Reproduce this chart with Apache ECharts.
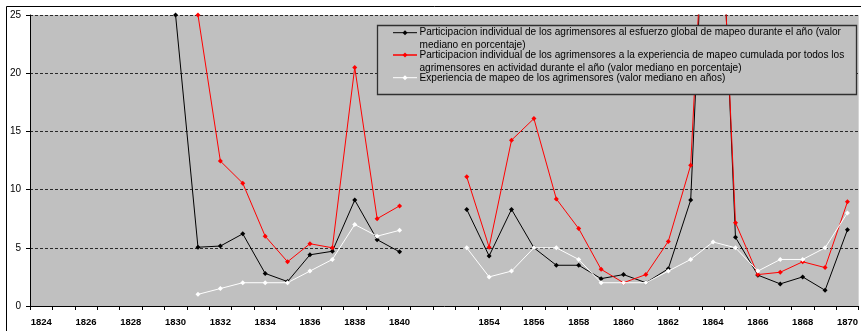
<!DOCTYPE html>
<html>
<head>
<meta charset="utf-8">
<style>
  html, body { margin: 0; padding: 0; background: #ffffff; }
  #chart { width: 861px; height: 331px; }
</style>
<script src="https://cdn.jsdelivr.net/npm/echarts@6/dist/echarts.min.js"></script>
</head>
<body>
<div id="chart"></div>
<script>
// Years on the horizontal axis; 1841-1852 are collapsed into two blank slots.
const years = [
  '1824','1825','1826','1827','1828','1829','1830','1831','1832','1833','1834',
  '1835','1836','1837','1838','1839','1840','',' ',
  '1853','1854','1855','1856','1857','1858','1859','1860','1861','1862','1863',
  '1864','1865','1866','1867','1868','1869','1870'
];

// Participacion individual al esfuerzo global de mapeo (valor mediano, %)
const esfuerzo = [
  null, null, null, null, null, null, 25, 5.05, 5.15, 6.2, 2.8,
  2.1, 4.4, 4.7, 9.1, 5.7, 4.65, null, null,
  8.3, 4.3, 8.3, 5.0, 3.5, 3.5, 2.35, 2.7, 2.0, 3.2, 9.1,
  52, 5.9, 2.65, 1.9, 2.5, 1.35, 6.55
];

// Participacion individual a la experiencia de mapeo cumulada (valor mediano, %)
const experienciaCumulada = [
  null, null, null, null, null, null, null, 25, 12.45, 10.55, 6.0,
  3.8, 5.35, 5.0, 20.5, 7.5, 8.6, null, null,
  11.1, 5.05, 14.25, 16.1, 9.2, 6.65, 3.15, 2.0, 2.7, 5.55, 12.1,
  50, 7.15, 2.7, 2.9, 3.8, 3.3, 8.95
];

// Experiencia de mapeo de los agrimensores (valor mediano, años)
const experienciaAnos = [
  null, null, null, null, null, null, null, 1, 1.5, 2, 2,
  2, 3, 4, 7, 6, 6.5, null, null,
  5, 2.5, 3, 5, 5, 4, 2, 2, 2, 3, 4,
  5.5, 5, 3, 4, 4, 5, 8
];

const yTicks = { min: 0, max: 25, interval: 5 };

// Legend wording, one entry per series, split into its printed lines.
const legendLines = [
  ['Participacion individual de los agrimensores al esfuerzo global de mapeo durante el año (valor',
   'mediano en porcentaje)'],
  ['Participacion individual de los agrimensores a la experiencia de mapeo cumulada por todos los',
   'agrimensores en actividad durante el año (valor mediano en porcentaje)'],
  ['Experiencia de mapeo de los agrimensores (valor mediano en años)']
];
const seriesColors = ['#000000', '#ff0000', '#ffffff'];
const seriesData = [esfuerzo, experienciaCumulada, experienciaAnos];

const FONT = '"Liberation Sans", Arial, sans-serif';

// Legend box drawn as graphic elements: frame, sample line with marker, text.
const legendIconY = [32.7, 55, 77.7];
const legendTextY = [[32.7, 45.5], [55, 68], [78]];
const legendGraphics = [{
  type: 'rect',
  shape: { x: 377.5, y: 25.5, width: 479, height: 69 },
  style: { fill: '#c0c0c0', stroke: '#303030', lineWidth: 1.3 },
  z: 100
}];
legendLines.forEach((lines, i) => {
  const y = legendIconY[i];
  legendGraphics.push({
    type: 'line',
    shape: { x1: 393, y1: y, x2: 417, y2: y },
    style: { stroke: seriesColors[i], lineWidth: i === 1 ? 1.5 : 1 },
    z: 101
  });
  legendGraphics.push({
    type: 'polygon',
    shape: { points: [[405, y - 2.5], [407.5, y], [405, y + 2.5], [402.5, y]] },
    style: { fill: seriesColors[i] },
    z: 102
  });
  lines.forEach((txt, j) => {
    legendGraphics.push({
      type: 'text',
      x: 419.5,
      y: legendTextY[i][j],
      style: {
        text: txt,
        fill: '#000000',
        font: '10.1px ' + FONT,
        textVerticalAlign: 'middle',
        textAlign: 'left'
      },
      z: 103
    });
  });
});

// Outer chart frame
legendGraphics.unshift({
  type: 'rect',
  shape: { x: 6.5, y: 6.5, width: 900, height: 400 },
  style: { fill: 'none', stroke: '#000000', lineWidth: 1 },
  z: -10,
  silent: true
});

const chart = echarts.init(document.getElementById('chart'), null, { renderer: 'canvas' });

chart.setOption({
  animation: false,
  backgroundColor: '#ffffff',
  textStyle: { fontFamily: FONT },
  grid: {
    left: 30, top: 15, width: 831, height: 291,
    show: true, backgroundColor: '#c0c0c0', borderWidth: 0,
    containLabel: false
  },
  xAxis: {
    type: 'category',
    data: years,
    boundaryGap: true,
    axisLine: { show: true, lineStyle: { color: '#000000', width: 1 } },
    axisTick: { show: true, interval: 0, length: 4, lineStyle: { color: '#000000' } },
    axisLabel: {
      interval: 1, color: '#000000', fontSize: 9.5, fontWeight: 'bold',
      fontFamily: FONT, margin: 11.5
    },
    splitLine: { show: false }
  },
  yAxis: {
    type: 'value',
    min: yTicks.min, max: yTicks.max, interval: yTicks.interval,
    axisLine: { show: true, lineStyle: { color: '#000000', width: 1 } },
    axisTick: { show: true, length: 4, lineStyle: { color: '#000000' } },
    axisLabel: { color: '#000000', fontSize: 10, fontFamily: FONT, margin: 9 },
    splitLine: { show: true, lineStyle: { color: '#2a2a2a', type: [3, 2], width: 1 } }
  },
  series: seriesData.map((d, i) => ({
    type: 'line',
    name: legendLines[i].join(' '),
    data: d,
    clip: true,
    connectNulls: false,
    symbol: 'diamond',
    symbolSize: 5,
    showSymbol: true,
    lineStyle: { color: seriesColors[i], width: 1 },
    itemStyle: { color: seriesColors[i] },
    z: 2 + i
  })),
  graphic: { elements: legendGraphics }
});
</script>
</body>
</html>
